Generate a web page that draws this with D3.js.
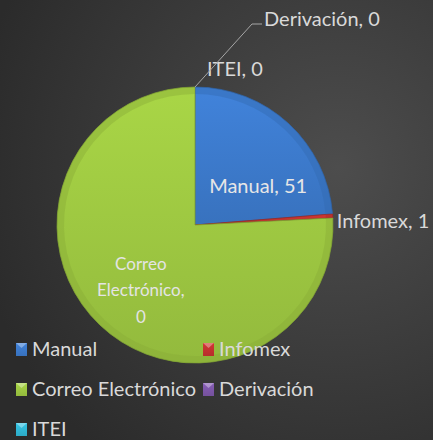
<!DOCTYPE html>
<html>
<head>
<meta charset="utf-8">
<script src="https://cdn.jsdelivr.net/npm/d3@7"></script>
<style>
  html, body { margin: 0; padding: 0; background: #333; }
  svg { display: block; font-family: Lato, "Open Sans", sans-serif; }
</style>
</head>
<body>
<div id="chart"></div>
<script>
const categories = ["Manual", "Infomex", "Correo Electrónico", "Derivación", "ITEI"];
// slice sizes
const values = [51, 1, 163, 0, 0];
// the numbers printed in the data labels
const labelValues = [51, 1, 0, 0, 0];
const colors = ["#3b78c8", "#c0312e", "#9bc440", "#7b55a6", "#30b4d2"];

const width = 433;
const height = 440;
const cx = 195;
const cy = 225;
const radius = 138;

const svg = d3
  .select("#chart")
  .append("svg")
  .attr("width", width)
  .attr("height", height);

const defs = svg.append("defs");

const bg = defs
  .append("radialGradient")
  .attr("id", "bg")
  .attr("cx", "78%")
  .attr("cy", "38%")
  .attr("r", "85%");
bg.append("stop").attr("offset", "0%").attr("stop-color", "#4d4d4d");
bg.append("stop").attr("offset", "100%").attr("stop-color", "#2b2b2b");

svg
  .append("rect")
  .attr("width", width)
  .attr("height", height)
  .attr("fill", "url(#bg)");

colors.forEach((c, i) => {
  const g = defs
    .append("linearGradient")
    .attr("id", `grad${i}`)
    .attr("x1", 0)
    .attr("y1", 0)
    .attr("x2", 0)
    .attr("y2", 1);
  g.append("stop").attr("offset", "0%").attr("stop-color", d3.color(c).brighter(0.25));
  g.append("stop").attr("offset", "100%").attr("stop-color", d3.color(c).darker(0.15));
});

const pie = d3
  .pie()
  .sort(null)
  .value((d) => d.value);

const data = categories.map((name, i) => ({
  name,
  value: values[i],
  label: labelValues[i],
  color: colors[i],
  i,
}));

const arcs = pie(data);

const arc = d3.arc().innerRadius(0).outerRadius(radius);
const rim = d3.arc().innerRadius(radius - 7).outerRadius(radius);

const pieG = svg.append("g").attr("transform", `translate(${cx},${cy})`);

pieG
  .selectAll(".slice")
  .data(arcs.filter((d) => d.value > 0))
  .join("path")
  .attr("class", "slice")
  .attr("d", arc)
  .attr("fill", (d) => `url(#grad${d.data.i})`)
  .attr("stroke", (d) => d3.color(d.data.color).darker(0.6))
  .attr("stroke-width", 0.8);

// soft bevel along the rim
pieG
  .selectAll(".rim")
  .data(arcs.filter((d) => d.value > 0))
  .join("path")
  .attr("class", "rim")
  .attr("d", rim)
  .attr("fill", (d) => d3.color(d.data.color).darker(0.35))
  .attr("opacity", 0.45);

// data labels
const labelStyle = { fill: "#d9d9d9", size: 20 };

const manual = arcs[0];
const [mx, my] = d3.arc().innerRadius(0).outerRadius(radius * 1.03).centroid(manual);
svg
  .append("text")
  .attr("x", cx + mx + 15)
  .attr("y", cy + my + 20)
  .attr("text-anchor", "middle")
  .attr("fill", "#e6e6e6")
  .attr("font-size", labelStyle.size)
  .text(`${manual.data.name}, ${manual.data.label}`);

const infomex = arcs[1];
const infoAngle = (infomex.startAngle + infomex.endAngle) / 2;
svg
  .append("text")
  .attr("x", cx + Math.sin(infoAngle) * radius + 4)
  .attr("y", cy - Math.cos(infoAngle) * radius + 12)
  .attr("fill", labelStyle.fill)
  .attr("font-size", labelStyle.size)
  .text(`${infomex.data.name}, ${infomex.data.label}`);

const correo = arcs[2];
const [gx, gy] = d3.arc().innerRadius(0).outerRadius(radius * 0.95).centroid(correo);
const correoText = svg
  .append("text")
  .attr("text-anchor", "middle")
  .attr("fill", "#e4e4e4")
  .attr("font-size", 17);
["Correo", "Electrónico,", `${correo.data.label}`].forEach((t, k) => {
  correoText
    .append("tspan")
    .attr("x", cx + gx - 9)
    .attr("y", cy + gy - 3 + k * 26.5)
    .text(t);
});

// zero slices sit on top of the pie
const topX = cx;
const topY = cy - radius;

const itei = arcs[4];
svg
  .append("text")
  .attr("x", topX + 12)
  .attr("y", topY - 11)
  .attr("fill", labelStyle.fill)
  .attr("font-size", labelStyle.size)
  .text(`${itei.data.name}, ${itei.data.label}`);

const deriv = arcs[3];
svg
  .append("path")
  .attr("d", `M${topX},${topY} L${topX + 57},${topY - 63} L${topX + 67},${topY - 63}`)
  .attr("fill", "none")
  .attr("stroke", "#a6a6a6")
  .attr("stroke-width", 1);
svg
  .append("text")
  .attr("x", topX + 69)
  .attr("y", topY - 61)
  .attr("fill", labelStyle.fill)
  .attr("font-size", labelStyle.size)
  .text(`${deriv.data.name}, ${deriv.data.label}`);

// legend
const legendCols = [16, 203];
const legendRow0 = 356;
const legendStep = 40;

const legend = svg
  .selectAll(".legend")
  .data(data)
  .join("g")
  .attr("class", "legend")
  .attr(
    "transform",
    (d, i) =>
      `translate(${legendCols[i % 2]},${legendRow0 + Math.floor(i / 2) * legendStep})`
  );

legend
  .append("rect")
  .attr("x", 0)
  .attr("y", -13)
  .attr("width", 11)
  .attr("height", 13)
  .attr("fill", (d) => `url(#grad${d.i})`);

legend
  .append("path")
  .attr("d", "M0,-13 L11,-13 L5.5,-8 Z")
  .attr("fill", "#fff")
  .attr("opacity", 0.35);

legend
  .append("text")
  .attr("x", 16)
  .attr("y", 0)
  .attr("fill", labelStyle.fill)
  .attr("font-size", labelStyle.size)
  .text((d) => d.name);
</script>
</body>
</html>
